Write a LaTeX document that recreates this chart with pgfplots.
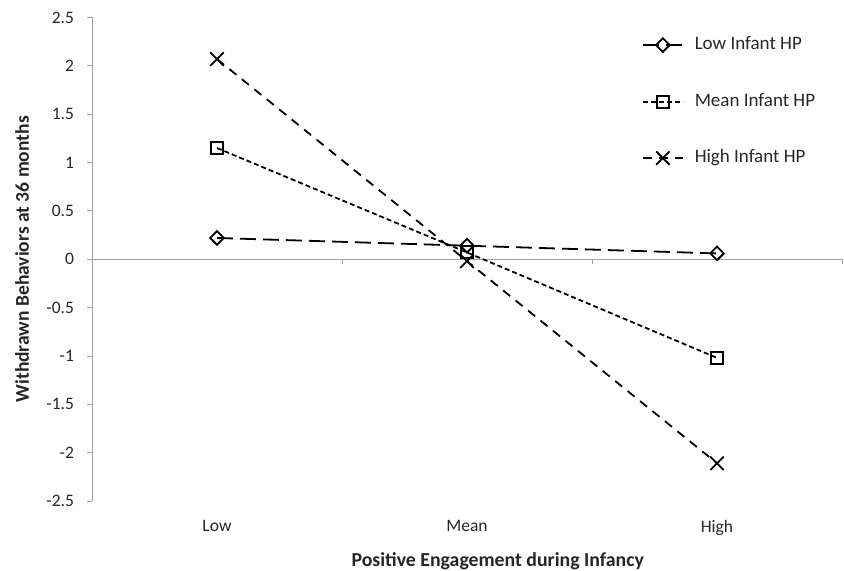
\documentclass[border=0pt]{standalone}
\usepackage{pgfplots}
\pgfplotsset{compat=1.18}
\usepackage{fontspec}
\setmainfont{Carlito}
\definecolor{txt}{HTML}{262626}
\definecolor{axgray}{HTML}{A0A0A0}
\begin{document}
\fontsize{17.5}{20}\selectfont
\begin{tikzpicture}
\begin{axis}[
  name=ax,
  scale only axis,
  width=750pt, height=483.5pt,
  xmin=0.5, xmax=3.5,
  ymin=-2.5, ymax=2.5,
  ytick={-2.5,-2,...,2.5},
  xtick={1,2,3},
  xticklabels={Low,Mean,High},
  axis y line*=left,
  axis x line*=bottom,
  x axis line style={draw=none},
  y axis line style={axgray, line width=0.8pt},
  xtick style={draw=none},
  ytick style={axgray, line width=0.8pt},
  tick align=outside,
  major tick length=5pt,
  /pgf/number format/assume math mode=true,
  tick label style={font=\fontsize{17.5}{20}\selectfont, text=txt},
  yticklabel style={xshift=-7pt},
  xticklabel style={yshift=-8pt},
  xlabel={\textbf{Positive Engagement during Infancy}},
  ylabel={\textbf{Withdrawn Behaviors at 36 months}},
  every axis x label/.style={at={(axis description cs:0.541,-0.124)}, anchor=center, font=\fontsize{19.8}{22}\selectfont, text=txt},
  every axis y label/.style={at={(axis description cs:-0.0933,0.5)}, rotate=90, anchor=center, font=\fontsize{19.5}{22}\selectfont, text=txt},
  legend style={draw=none, fill=none, at={(axis description cs:0.733,0.965)}, anchor=north west,
    font=\fontsize{19}{22}\selectfont, text=txt, row sep=35.5pt, inner sep=0pt,
    nodes={text height=13pt, text depth=4pt}},
  legend cell align=left,
  legend image code/.code={
    \draw[#1, mark repeat=2, mark phase=2] plot coordinates {(0pt,0pt) (20pt,0pt) (40pt,0pt)};
    \path (0pt,0pt) (49pt,0pt);
  },
  clip=false,
]
\draw[axgray, line width=0.8pt] (axis cs:0.5,0) -- (axis cs:3.5,0);
\draw[axgray, line width=0.8pt] (axis cs:1.5,0) -- ([yshift=-5pt]axis cs:1.5,0);
\draw[axgray, line width=0.8pt] (axis cs:2.5,0) -- ([yshift=-5pt]axis cs:2.5,0);
\draw[axgray, line width=0.8pt] (axis cs:3.5,0) -- ([yshift=-5pt]axis cs:3.5,0);
\addplot[black, line width=1.8pt, dash pattern=on 16pt off 7pt, mark=square, mark size=4.8pt,
  mark options={solid, fill=none, line width=1.8pt, rotate=45}] coordinates {(1,0.22) (2,0.14) (3,0.06)};
\addlegendentry{Low Infant HP}
\addplot[black, line width=1.8pt, dash pattern=on 5pt off 3pt, mark=square, mark size=6pt,
  mark options={solid, fill=none, line width=2pt}] coordinates {(1,1.15) (2,0.07) (3,-1.02)};
\addlegendentry{Mean Infant HP}
\addplot[black, line width=1.8pt, dash pattern=on 9pt off 7pt, mark=x, mark size=9.5pt,
  mark options={solid, line width=1.8pt}] coordinates {(1,2.07) (2,-0.02) (3,-2.11)};
\addlegendentry{High Infant HP}
\end{axis}
\pgfresetboundingbox
\path ([shift={(-92pt,-70pt)}]ax.south west) rectangle ([shift={(2pt,17.5pt)}]ax.north east);
\end{tikzpicture}
\end{document}
